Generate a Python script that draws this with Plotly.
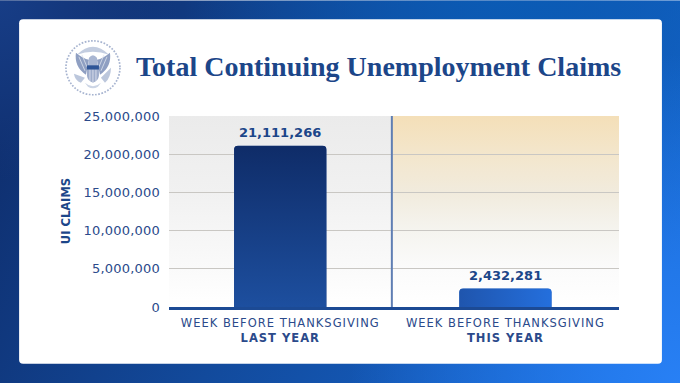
import base64
import plotly.graph_objects as go

categories = ["WEEK BEFORE THANKSGIVING<br><b>LAST YEAR</b>", "WEEK BEFORE THANKSGIVING<br><b>THIS YEAR</b>"]
values = [21111266, 2432281]
y_ticks = [0, 5000000, 10000000, 15000000, 20000000, 25000000]
title_text = "Total Continuing Unemployment Claims"
y_title = "UI CLAIMS"

W, H = 680, 383
L, R, T, B = 169.0, 618.7, 115.7, 306.8
PW, PH = R - L, B - T
NAVY = "#1c4689"
BAR_W = 92.3 / 225
DIVIDE = 391.7


def px(x):
    return (x - L) / PW


def py(y):
    return (B - y) / PH


def svg_uri(body, w, h):
    s = f'<svg xmlns="http://www.w3.org/2000/svg" width="{w}" height="{h}" viewBox="0 0 {w} {h}" preserveAspectRatio="none">{body}</svg>'
    return "data:image/svg+xml;base64," + base64.b64encode(s.encode()).decode()


def paper_image(body, x0, y0, x1, y1, layer="below"):
    return dict(source=svg_uri(body, round(x1 - x0, 2), round(y1 - y0, 2)), xref="paper", yref="paper",
                x=px(x0), y=py(y0), sizex=(x1 - x0) / PW, sizey=(y1 - y0) / PH,
                xanchor="left", yanchor="top", sizing="stretch", layer=layer)


bg = (
    '<defs><linearGradient id="a" x1="0" y1="0.35" x2="1" y2="0.65">'
    '<stop offset="0" stop-color="#0f2f6f"/><stop offset="0.45" stop-color="#124a9c"/>'
    '<stop offset="1" stop-color="#1668d2"/></linearGradient>'
    '<radialGradient id="b" gradientUnits="userSpaceOnUse" cx="680" cy="383" r="330">'
    '<stop offset="0" stop-color="#2880f5" stop-opacity="1"/><stop offset="1" stop-color="#2880f5" stop-opacity="0"/></radialGradient>'
    '<radialGradient id="c" gradientUnits="userSpaceOnUse" cx="520" cy="-40" r="340">'
    '<stop offset="0" stop-color="#0a5cb6" stop-opacity="1"/><stop offset="1" stop-color="#0a5cb6" stop-opacity="0"/></radialGradient>'
    '<radialGradient id="d" gradientUnits="userSpaceOnUse" cx="0" cy="0" r="180">'
    '<stop offset="0" stop-color="#173d86" stop-opacity="1"/><stop offset="1" stop-color="#173d86" stop-opacity="0"/></radialGradient>'
    '</defs><rect width="680" height="383" fill="url(#a)"/><rect width="680" height="383" fill="url(#c)"/>'
    '<rect width="680" height="383" fill="url(#d)"/><rect width="680" height="383" fill="url(#b)"/>'
    '<rect x="19.2" y="19" width="642.4" height="344.6" rx="4" ry="4" fill="#ffffff"/>'
)


def panel(stops):
    s = "".join(f'<stop offset="{o}" stop-color="{c}"/>' for o, c in stops)
    return (f'<defs><linearGradient id="p" x1="0" y1="0" x2="0" y2="1">{s}</linearGradient></defs>'
            '<rect width="100%" height="100%" fill="url(#p)"/>')


left_stops = [(0, "#ebebeb"), (0.4, "#f1f1f1"), (0.8, "#fafafa"), (1, "#ffffff")]
right_stops = [(0, "#f4dfb8"), (0.2, "#f3e6cc"), (0.4, "#f1ebdd"), (0.6, "#f5f4ef"), (0.8, "#fbfbfb"), (1, "#ffffff")]

seal = (
    '<circle cx="28" cy="28" r="27" fill="none" stroke="#a7b4d0" stroke-width="1.7" stroke-dasharray="1.7 1.5"/>'
    '<path d="M12 15 Q28 -1 44 15 Q28 9 12 15Z" fill="#c3cde0"/>'
    '<path d="M11 13 Q9 27 21 35 L24 20 Q18 19 11 13Z" fill="#8f9fc2"/>'
    '<path d="M45 13 Q47 27 35 35 L32 20 Q38 19 45 13Z" fill="#8f9fc2"/>'
    '<path d="M14 17 L20 31 M17 15 L22 27 M42 17 L36 31 M39 15 L34 27" stroke="#dde3ee" stroke-width="0.8"/>'
    '<path d="M24 18 Q28 13 32 18 L33 27 L23 27Z" fill="#a9b6d2"/>'
    '<rect x="22" y="25.5" width="12" height="4.5" fill="#2f5597"/>'
    '<path d="M22 30 H34 V36 Q33.5 41 28 43 Q22.5 41 22 36Z" fill="#9fadcb"/>'
    '<path d="M25 30 V41 M28 30 V43 M31 30 V41" stroke="#e4e9f2" stroke-width="0.8"/>'
    '<path d="M9 34 L20 38 L16 43 Q10 41 9 34Z" fill="#bcc7dc"/>'
    '<path d="M46 28 L36 38 L40 43 Q46 38 46 28Z" fill="#bcc7dc"/>'
    '<path d="M20 43 Q28 50 36 43 L33 47 Q28 50 23 47Z" fill="#ccd5e5"/>'
)

bar_grads = [("0", "0", "0", "1", "#0f2c68", "#1d4f9f"), ("0", "0", "1", "0", "#1f55ad", "#246fdd")]
images = [
    paper_image(bg, 0, 0, W, H),
    paper_image(panel(left_stops), L, T, DIVIDE, B),
    paper_image(panel(right_stops), DIVIDE, T, R, B),
    paper_image(seal, 65, 39.5, 121, 95.5),
]
for i, v in enumerate(values):
    bw = BAR_W * 225
    bh = v / 25000000 * PH
    g = bar_grads[i]
    r = 4
    body = (f'<defs><linearGradient id="g" x1="{g[0]}" y1="{g[1]}" x2="{g[2]}" y2="{g[3]}">'
            f'<stop offset="0" stop-color="{g[4]}"/><stop offset="1" stop-color="{g[5]}"/></linearGradient></defs>'
            f'<path d="M0 {bh:.2f} V{r} Q0 0 {r} 0 H{bw - r:.2f} Q{bw:.2f} 0 {bw:.2f} {r} V{bh:.2f}Z" fill="url(#g)"/>')
    images.append(dict(source=svg_uri(body, round(bw, 2), round(bh, 2)), xref="x", yref="y",
                       x=i - BAR_W / 2, y=v, sizex=BAR_W, sizey=v, xanchor="left", yanchor="top",
                       sizing="stretch", layer="above"))

fig = go.Figure(go.Bar(x=[0, 1], y=values, width=BAR_W, marker=dict(color=["#163a80", "#2160c0"], cornerradius=4, line_width=0), hoverinfo="skip"))

annotations = [
    dict(text=f"<b>{title_text}</b>", xref="paper", yref="paper", x=px(134.5), y=py(66.5), xanchor="left", yanchor="middle",
         showarrow=False, font=dict(family="Liberation Serif", size=28, color=NAVY)),
    dict(text=f"<b>{y_title}</b>", xref="paper", yref="paper", x=px(66), y=py(211), textangle=-90, xanchor="center", yanchor="middle",
         showarrow=False, font=dict(family="DejaVu Sans", size=11.5, color=NAVY)),
]
for i, v in enumerate(values):
    annotations.append(dict(text=f"<b>{v:,}</b>", x=i, y=v, xref="x", yref="y", xanchor="center", yanchor="middle", yshift=13,
                            showarrow=False, font=dict(family="DejaVu Sans", size=13, color=NAVY)))

fig.update_layout(
    width=W, height=H, autosize=False, margin=dict(l=L, r=W - R, t=T, b=H - B, pad=0),
    paper_bgcolor="rgba(0,0,0,0)", plot_bgcolor="rgba(0,0,0,0)", showlegend=False,
    images=images, annotations=annotations,
    shapes=[
        dict(type="line", xref="paper", yref="paper", x0=px(DIVIDE), x1=px(DIVIDE), y0=0, y1=1, line=dict(color="#5f7eb3", width=2), layer="above"),
    ],
    xaxis=dict(range=[(L - 280.2) / 225, (R - 280.2) / 225], tickvals=[0, 1], ticktext=categories, showgrid=False, zeroline=False,
               showline=True, linecolor="#1c4a94", linewidth=3, ticks="", fixedrange=True,
               tickfont=dict(family="DejaVu Sans", size=11.5, color="#2b4a8b"), ticklabelstandoff=3),
    yaxis=dict(range=[0, 25000000], tickvals=y_ticks, ticktext=[f"{t:,}" for t in y_ticks], showgrid=True, gridcolor="#c9c7c3", gridwidth=1.2,
               zeroline=False, showline=False, ticks="", fixedrange=True, ticklabelstandoff=8,
               tickfont=dict(family="DejaVu Sans", size=13, color="#2b4a8b")),
)
post = """
document.body.style.margin='0';document.body.style.overflow='hidden';
document.querySelectorAll('.xtick text').forEach(function(t){t.style.letterSpacing='1px';});
document.querySelectorAll('.ytick text').forEach(function(t){t.style.letterSpacing='0.2px';});
"""
fig.write_html("out.html", config={"displayModeBar": False}, post_script=post)
